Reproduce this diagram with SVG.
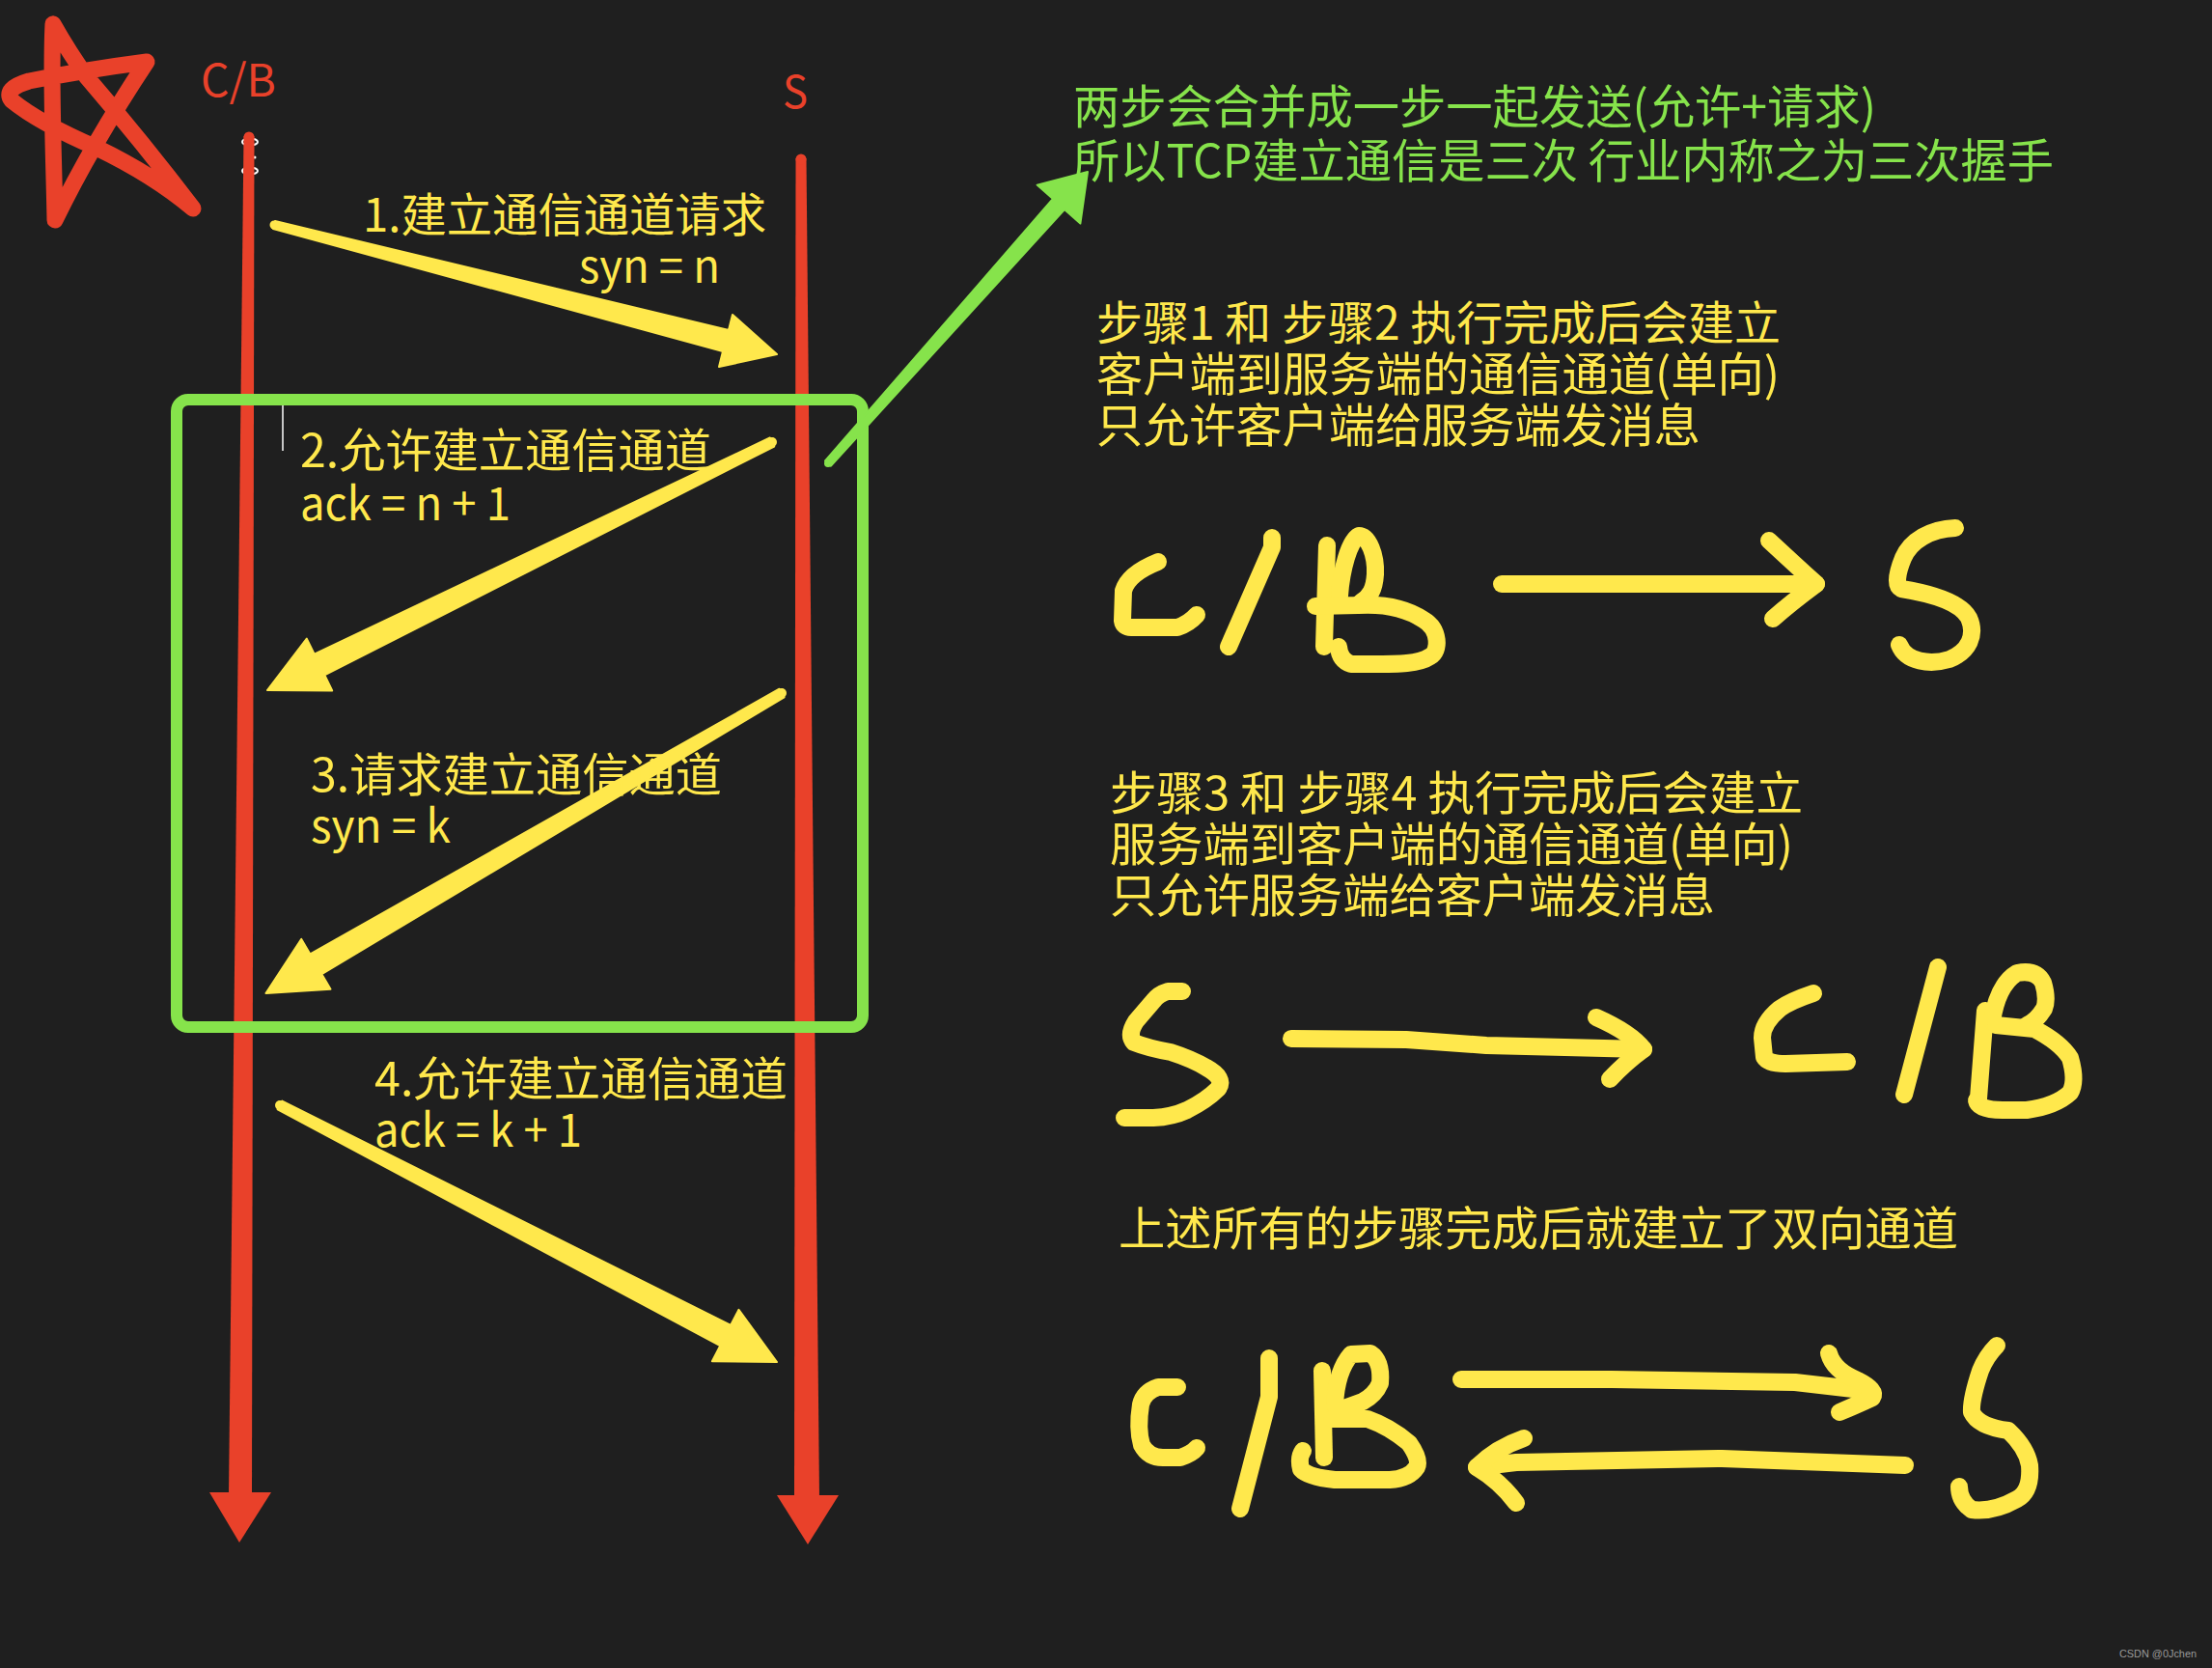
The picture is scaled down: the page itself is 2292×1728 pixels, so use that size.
<svg xmlns="http://www.w3.org/2000/svg" width="2292" height="1728" viewBox="0 0 2292 1728">
<style>
.t{font-family:"Noto Sans CJK SC","Noto Sans",sans-serif;font-size:48px}
.y{fill:#ffe84c}
.g{fill:#86e34b}
.r{fill:#e9412a}
.hw{fill:none;stroke:#ffe84c;stroke-width:18;stroke-linecap:round;stroke-linejoin:round}
.red{fill:#e9412a}
.ya{fill:#ffe84c;stroke:#ffe84c;stroke-width:2;stroke-linejoin:round}
</style>
<rect width="2292" height="1728" fill="#1f1f1f"/>

<g id="star">
<path d="M55,25 C52,80 56,170 57,228 Q95,150 152,64 Q90,72 30,84 Q3,92 12,104 Q40,127 100,153 Q160,182 200,216 Q150,150 90,80 Q72,55 55,25" fill="none" stroke="#e9412a" stroke-width="17" stroke-linecap="round" stroke-linejoin="round"/>
</g>

<g id="cb-lifeline">
<ellipse cx="259" cy="147" rx="8" ry="3.5" fill="none" stroke="#ffffff" stroke-width="2"/>
<ellipse cx="259" cy="177" rx="8" ry="3.5" fill="none" stroke="#ffffff" stroke-width="2"/>
<circle cx="264" cy="163" r="1.5" fill="#ffffff"/>
<polygon class="red" points="252.5,141 263.5,141 261,1550 237,1550"/>
<circle class="red" cx="258" cy="142" r="5.5"/>
<polygon class="red" points="217,1546 281,1546 248,1598"/>
<text class="t r" x="208" y="100" style="font-size:46px" textLength="78" lengthAdjust="spacingAndGlyphs">C/B</text>
</g>

<g id="s-lifeline">
<polygon class="red" points="824.5,164 835.5,164 849,1552 823,1552"/>
<circle class="red" cx="830" cy="165" r="5.5"/>
<polygon class="red" points="805,1549 869,1549 837,1600"/>
<text class="t r" x="811" y="112" style="font-size:46px" textLength="26" lengthAdjust="spacingAndGlyphs">S</text>
</g>

<g id="handshake-box">
<rect x="183" y="414" width="711" height="650" rx="12" fill="none" stroke="#86e34b" stroke-width="12"/>
<line x1="293" y1="420" x2="293" y2="467" stroke="#ffffff" stroke-width="1.5"/>
</g>

<g id="connectors">
<g id="msg1">
<polygon class="ya" points="285,229 755,342 759,326 805,367 745,380 749,364 283,237"/>
<circle cx="284" cy="233" r="4.5" fill="#ffe84c"/>
</g>
<g id="msg2">
<polygon class="ya" points="797.8,453.5 325.7,677.7 317.8,661.6 277,715 344.2,715.4 336.3,699.3 802.2,462.5"/>
<circle cx="800" cy="458" r="5" fill="#ffe84c"/>
</g>
<g id="msg3">
<polygon class="ya" points="807.5,713.7 321.4,988.4 312.3,972.9 275.5,1029 342.5,1024.7 333.4,1009.2 812.5,722.3"/>
<circle cx="810" cy="718" r="5" fill="#ffe84c"/>
</g>
<g id="msg4">
<polygon class="ya" points="292.3,1140.6 757.2,1372.8 765.5,1356.8 805,1411 737.9,1410.2 746.2,1394.2 287.7,1149.4"/>
<circle cx="290" cy="1145" r="5" fill="#ffe84c"/>
</g>
<g id="note-link">
<polygon points="855,477.3 1091,206 1074.6,191.6 1127,178 1119.4,231.6 1103,217 861,482.7" fill="#86e34b" stroke="#86e34b" stroke-width="2" stroke-linejoin="round"/>
<circle cx="858" cy="480" r="4" fill="#86e34b"/>
</g>
</g>

<g id="labels">
<text class="t y"><tspan x="376" y="240" textLength="418" lengthAdjust="spacingAndGlyphs">1.建立通信通道请求</tspan><tspan x="600" y="293" textLength="146" lengthAdjust="spacingAndGlyphs">syn = n</tspan></text>
<text class="t y"><tspan x="311" y="484" textLength="426" lengthAdjust="spacingAndGlyphs">2.允许建立通信通道</tspan><tspan x="311" y="539" textLength="218" lengthAdjust="spacingAndGlyphs">ack = n + 1</tspan></text>
<text class="t y"><tspan x="322" y="820" textLength="426" lengthAdjust="spacingAndGlyphs">3.请求建立通信通道</tspan><tspan x="322" y="873" textLength="145" lengthAdjust="spacingAndGlyphs">syn = k</tspan></text>
<text class="t y"><tspan x="388" y="1135" textLength="428" lengthAdjust="spacingAndGlyphs">4.允许建立通信通道</tspan><tspan x="388" y="1188" textLength="215" lengthAdjust="spacingAndGlyphs">ack = k + 1</tspan></text>
</g>

<g id="note-merge">
<text class="t g"><tspan x="1112" y="128" textLength="832" lengthAdjust="spacingAndGlyphs">两步会合并成一步一起发送(允许+请求)</tspan><tspan x="1112" y="184" textLength="1016" lengthAdjust="spacingAndGlyphs">所以TCP建立通信是三次 行业内称之为三次握手</tspan></text>
</g>

<g id="note-step12">
<text class="t y"><tspan x="1136" y="352" textLength="709" lengthAdjust="spacingAndGlyphs">步骤1 和 步骤2 执行完成后会建立</tspan><tspan x="1136" y="405" textLength="708" lengthAdjust="spacingAndGlyphs">客户端到服务端的通信通道(单向)</tspan><tspan x="1136" y="458" textLength="626" lengthAdjust="spacingAndGlyphs">只允许客户端给服务端发消息</tspan></text>
</g>

<g id="sketch-cb-to-s">
<path class="hw" d="M1200,582 C1185,588 1168,598 1164,612 L1163,643 Q1164,650 1172,650 L1220,650 Q1232,646 1240,637"/>
<path class="hw" d="M1318,557 L1318,567 L1273,670"/>
<path class="hw" d="M1375,565 L1372,670"/>
<path class="hw" d="M1388,617 C1390,590 1398,560 1408,555 C1418,555 1426,575 1425,595 C1424,610 1420,618 1410,624"/>
<path class="hw" d="M1363,628 L1407,627 C1440,625 1460,632 1475,642 C1492,652 1492,675 1482,680 C1470,688 1450,688 1420,688 L1400,688 Q1388,684 1387,670"/>
<path class="hw" d="M1556,605 L1882,605"/>
<path class="hw" d="M1833,560 Q1860,585 1882,605 Q1855,625 1837,641"/>
<path class="hw" d="M2026,547 C2000,548 1980,560 1972,578 C1965,595 1964,607 1970,610 C1995,614 2030,622 2040,640 C2048,658 2040,675 2020,683 C2000,689 1975,686 1968,668"/>
</g>

<g id="note-step34">
<text class="t y"><tspan x="1150" y="839" textLength="718" lengthAdjust="spacingAndGlyphs">步骤3 和 步骤4 执行完成后会建立</tspan><tspan x="1150" y="892" textLength="708" lengthAdjust="spacingAndGlyphs">服务端到客户端的通信通道(单向)</tspan><tspan x="1150" y="945" textLength="627" lengthAdjust="spacingAndGlyphs">只允许服务端给客户端发消息</tspan></text>
</g>

<g id="sketch-s-to-cb">
<path class="hw" d="M1225,1027 L1210,1027 Q1200,1030 1195,1037 L1177,1058 Q1168,1072 1175,1080 Q1190,1086 1213,1090 Q1235,1097 1250,1106 Q1270,1117 1262,1128 Q1250,1140 1230,1150 Q1215,1157 1195,1158 L1165,1158"/>
<path class="hw" d="M1338,1076 L1457,1077 L1540,1083 L1703,1087"/>
<path class="hw" d="M1654,1054 Q1690,1070 1703,1087 Q1685,1100 1668,1118"/>
<path class="hw" d="M1879,1029 Q1855,1037 1844,1045 Q1826,1060 1826,1075 L1828,1095 Q1832,1102 1850,1102 L1914,1100"/>
<path class="hw" d="M2008,1002 L1973,1134"/>
<path class="hw" d="M2057,1047 L2050,1138"/>
<path class="hw" d="M2064,1058 Q2070,1020 2090,1008 Q2110,1004 2117,1018 Q2122,1035 2118,1045 Q2110,1058 2100,1062"/>
<path class="hw" d="M2068,1062 L2108,1066 Q2135,1080 2145,1096 Q2152,1120 2145,1132 Q2130,1146 2100,1150 L2075,1150 Q2050,1150 2048,1140"/>
</g>

<g id="note-all">
<text class="t y" x="1159" y="1290" textLength="870" lengthAdjust="spacingAndGlyphs">上述所有的步骤完成后就建立了双向通道</text>
</g>

<g id="sketch-bidirectional">
<path class="hw" d="M1220,1437 L1200,1437 Q1185,1442 1182,1455 Q1178,1480 1183,1497 Q1190,1510 1205,1510 L1223,1510 Q1235,1506 1240,1500"/>
<path class="hw" d="M1315,1407 L1315,1447 L1285,1563"/>
<path class="hw" d="M1370,1420 L1372,1510"/>
<path class="hw" d="M1383,1455 Q1385,1420 1400,1403 L1420,1402 Q1432,1410 1430,1433 Q1425,1445 1412,1452 L1390,1460"/>
<path class="hw" d="M1380,1470 L1417,1470 Q1440,1478 1460,1495 Q1472,1512 1468,1520 Q1460,1532 1440,1533 L1383,1533 Q1355,1530 1348,1522 Q1345,1510 1350,1503"/>
<path class="hw" d="M1514,1429 L1670,1429 L1860,1432 L1929,1440"/>
<path class="hw" d="M1895,1402 Q1900,1420 1925,1430 Q1945,1440 1940,1448 Q1925,1455 1906,1463"/>
<path class="hw" d="M1974,1518 L1784,1511 L1571,1515 L1530,1520"/>
<path class="hw" d="M1579,1490 Q1550,1500 1530,1520 Q1555,1535 1571,1557"/>
<path class="hw" d="M2069,1394 Q2058,1405 2052,1420 Q2042,1450 2043,1463 Q2050,1478 2081,1482 Q2100,1500 2103,1518 Q2105,1545 2090,1553 Q2065,1567 2043,1564 Q2030,1555 2030,1540"/>
</g>

<text x="2196" y="1717" font-family="'Liberation Sans',sans-serif" font-size="11" fill="#9a9a9a" textLength="80" lengthAdjust="spacingAndGlyphs">CSDN @0Jchen</text>
</svg>
